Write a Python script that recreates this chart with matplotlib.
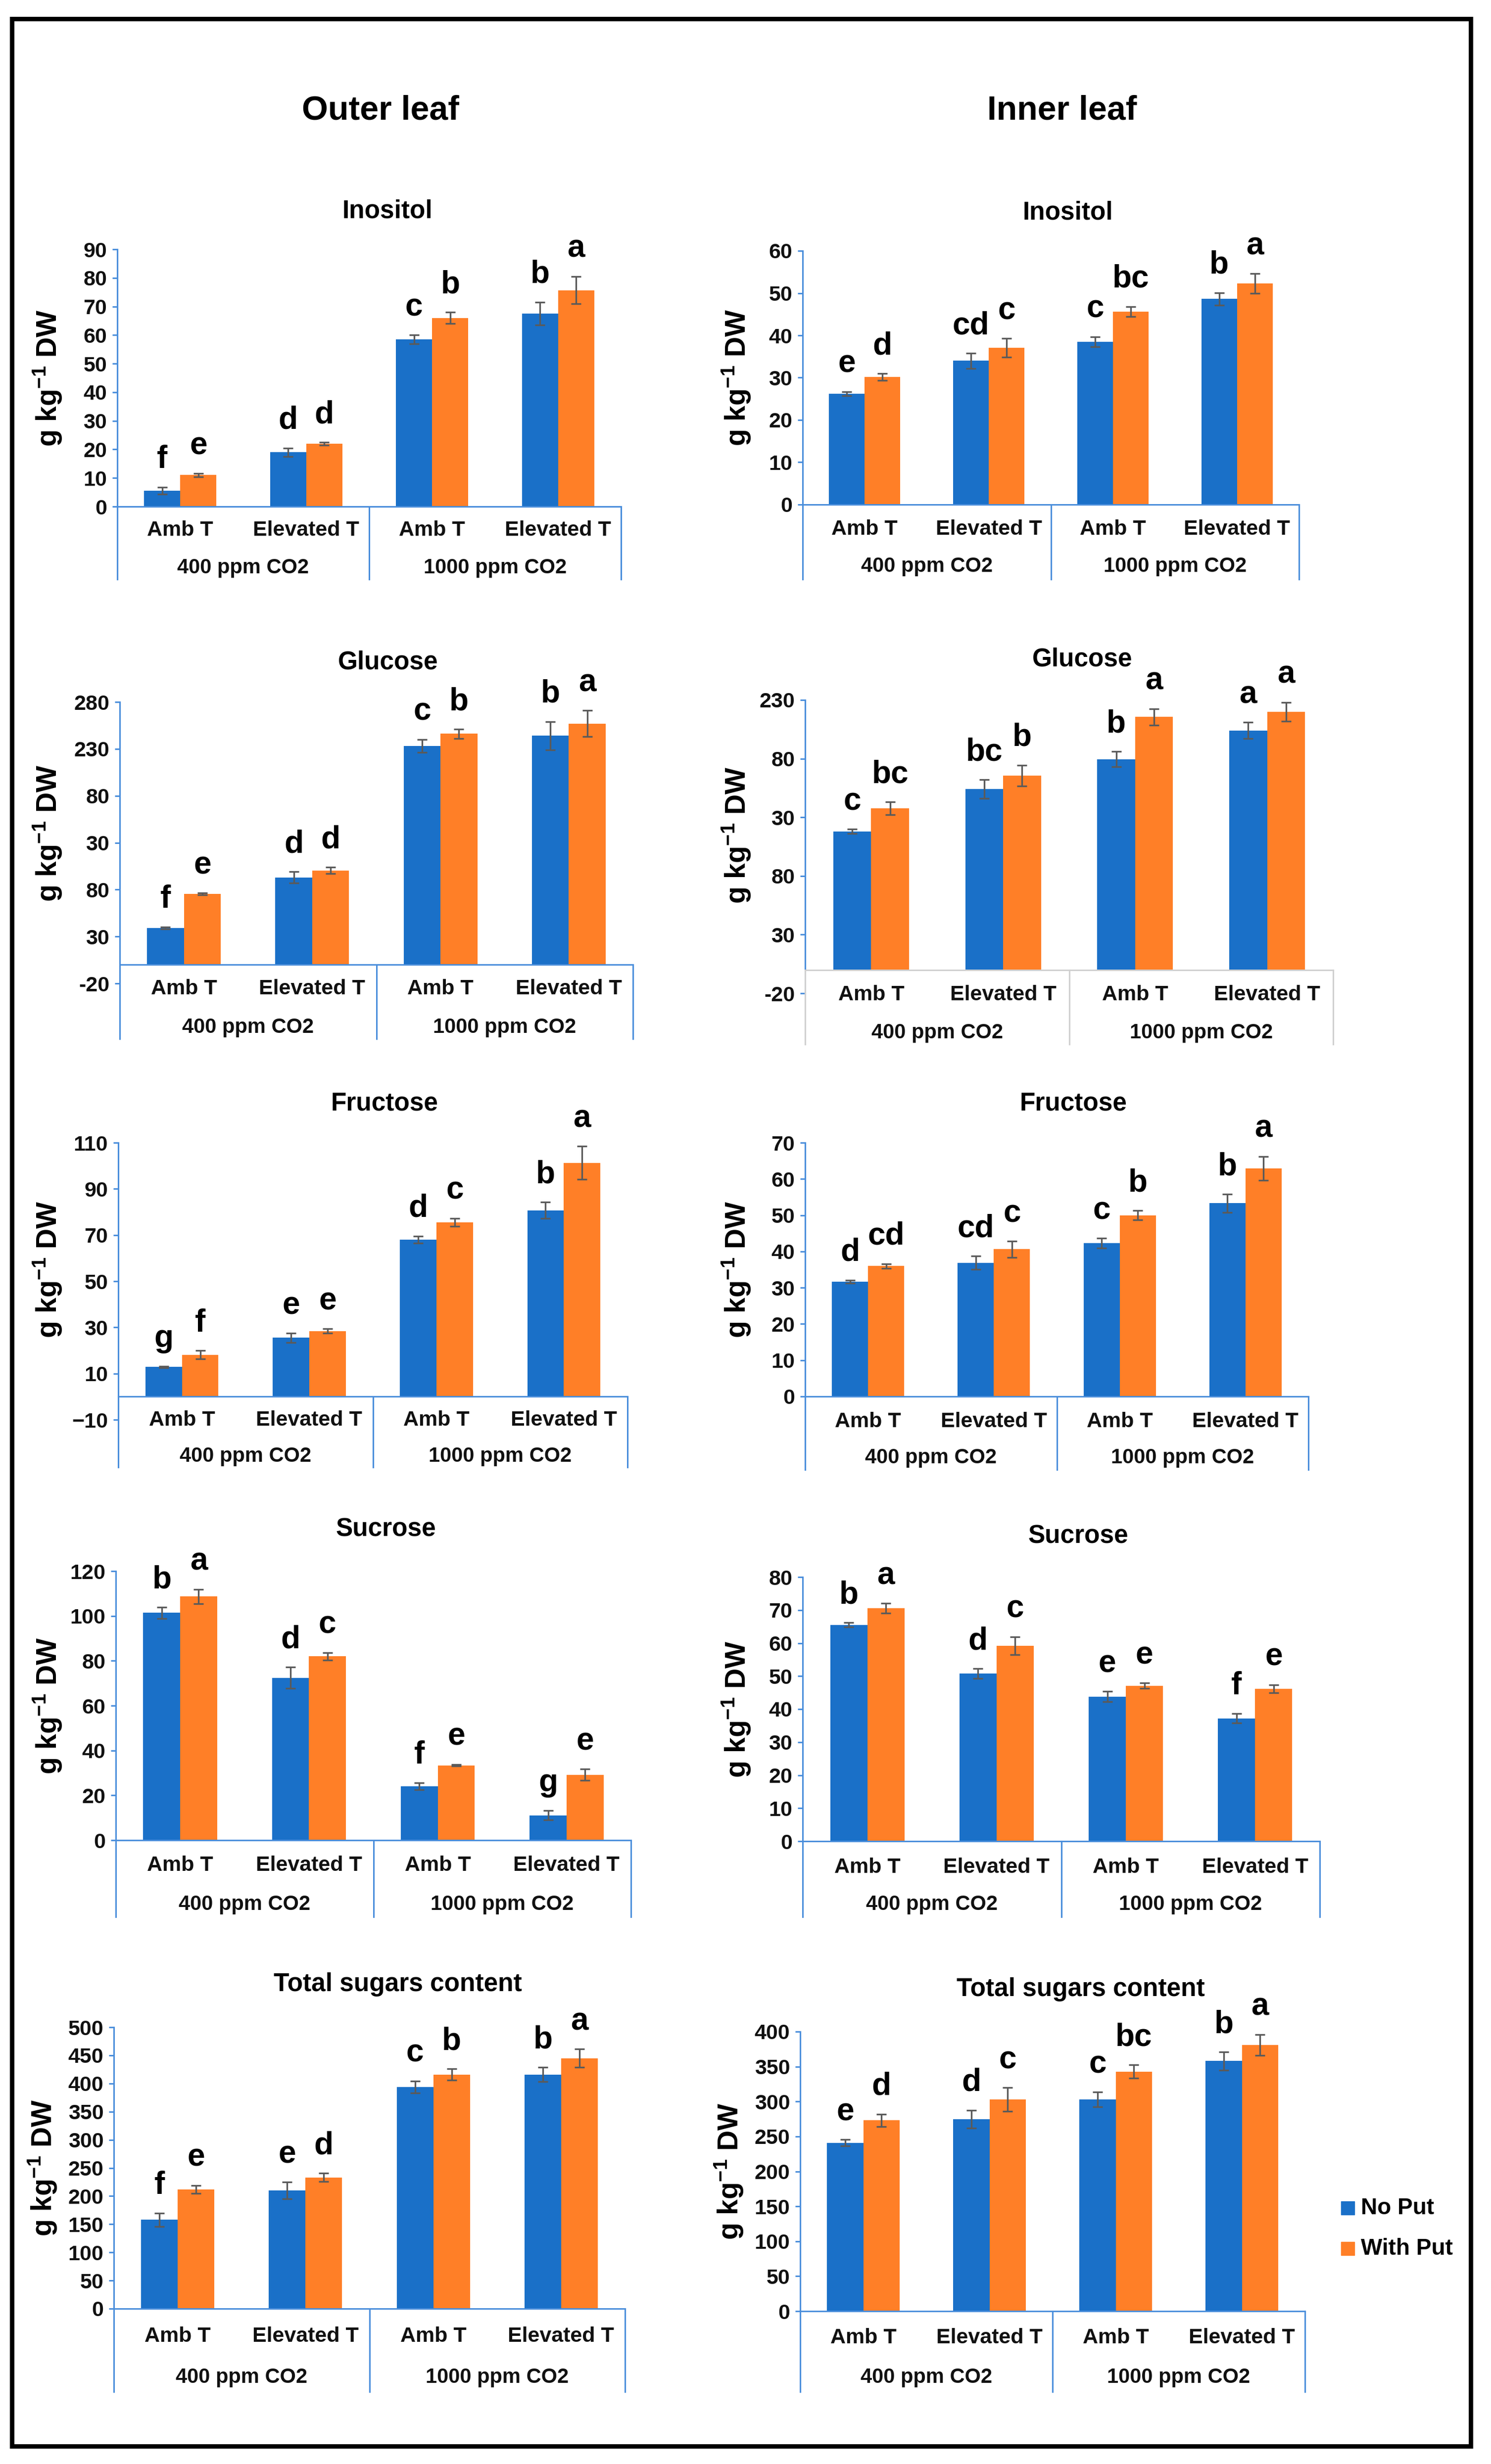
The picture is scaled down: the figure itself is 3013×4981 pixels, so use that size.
import matplotlib
matplotlib.use("Agg")
import matplotlib.pyplot as plt
from matplotlib.patches import Rectangle
from matplotlib.lines import Line2D
import numpy as np

plt.rcParams['font.family'] = ['Liberation Sans', 'DejaVu Sans']
plt.rcParams['mathtext.fontset'] = 'custom'
plt.rcParams['mathtext.rm'] = 'Liberation Sans'
plt.rcParams['mathtext.bf'] = 'Liberation Sans:bold'

# ---------------- data ----------------
categories = ['Amb T', 'Elevated T', 'Amb T', 'Elevated T']
groups = ['400 ppm CO2', '1000 ppm CO2']
series = ['No Put', 'With Put']
columns = ['Outer leaf', 'Inner leaf']

inos_out_no = [5.5, 19.0, 58.5, 67.5]
inos_out_with = [11.0, 22.0, 66.0, 75.7]
inos_out_no_err = [1.2, 1.5, 1.5, 4.0]
inos_out_with_err = [0.6, 0.5, 2.0, 4.8]
inos_out_no_let = ['f', 'd', 'c', 'b']
inos_out_with_let = ['e', 'd', 'b', 'a']

inos_in_no = [26.2, 34.0, 38.5, 48.6]
inos_in_with = [30.2, 37.1, 45.6, 52.3]
inos_in_no_err = [0.5, 1.8, 1.2, 1.5]
inos_in_with_err = [0.8, 2.2, 1.2, 2.3]
inos_in_no_let = ['e', 'cd', 'c', 'b']
inos_in_with_let = ['d', 'c', 'bc', 'a']

gluc_out_no = [39.0, 93.0, 233.0, 244.0]
gluc_out_with = [75.5, 100.3, 246.0, 257.0]
gluc_out_no_err = [1.0, 6.0, 7.0, 15.0]
gluc_out_with_err = [1.0, 3.5, 5.0, 14.0]
gluc_out_no_let = ['f', 'd', 'c', 'b']
gluc_out_with_let = ['e', 'd', 'b', 'a']

gluc_in_no = [118.0, 154.0, 179.5, 204.0]
gluc_in_with = [137.7, 165.5, 215.5, 220.0]
gluc_in_no_err = [2.0, 8.0, 6.5, 7.0]
gluc_in_with_err = [5.5, 9.0, 7.0, 8.0]
gluc_in_no_let = ['c', 'bc', 'b', 'a']
gluc_in_with_let = ['bc', 'b', 'a', 'a']

fruc_out_no = [12.9, 25.5, 68.1, 80.7]
fruc_out_with = [18.1, 28.4, 75.5, 101.3]
fruc_out_no_err = [0.3, 2.0, 1.5, 3.5]
fruc_out_with_err = [1.8, 1.0, 1.8, 7.2]
fruc_out_no_let = ['g', 'e', 'd', 'b']
fruc_out_with_let = ['f', 'e', 'c', 'a']

fruc_in_no = [31.7, 36.9, 42.3, 53.3]
fruc_in_with = [36.0, 40.6, 50.0, 62.9]
fruc_in_no_err = [0.4, 1.8, 1.3, 2.5]
fruc_in_with_err = [0.6, 2.2, 1.3, 3.3]
fruc_in_no_let = ['d', 'cd', 'c', 'b']
fruc_in_with_let = ['cd', 'c', 'b', 'a']

sucr_out_no = [101.4, 72.4, 24.1, 11.1]
sucr_out_with = [108.7, 82.0, 33.4, 29.2]
sucr_out_no_err = [2.5, 4.7, 1.5, 2.1]
sucr_out_with_err = [3.2, 1.7, 0.4, 2.5]
sucr_out_no_let = ['b', 'd', 'f', 'g']
sucr_out_with_let = ['a', 'c', 'e', 'e']

sucr_in_no = [65.5, 50.8, 43.8, 37.2]
sucr_in_with = [70.5, 59.2, 47.1, 46.2]
sucr_in_no_err = [0.7, 1.5, 1.6, 1.4]
sucr_in_with_err = [1.5, 2.7, 0.8, 1.2]
sucr_in_no_let = ['b', 'd', 'e', 'f']
sucr_in_with_let = ['a', 'c', 'e', 'e']

total_out_no = [158.0, 210.0, 394.0, 416.0]
total_out_with = [212.0, 233.0, 416.0, 445.0]
total_out_no_err = [12.0, 15.0, 10.6, 12.6]
total_out_with_err = [7.0, 7.5, 10.0, 16.0]
total_out_no_let = ['f', 'e', 'c', 'b']
total_out_with_let = ['e', 'd', 'b', 'a']

total_in_no = [241.0, 275.0, 303.0, 358.0]
total_in_with = [273.0, 303.0, 343.0, 381.0]
total_in_no_err = [4.5, 12.7, 10.4, 13.0]
total_in_with_err = [9.0, 16.7, 9.3, 15.0]
total_in_no_let = ['e', 'd', 'c', 'b']
total_in_with_let = ['d', 'c', 'bc', 'a']

inos_out_ticks = [0, 10, 20, 30, 40, 50, 60, 70, 80, 90]
inos_in_ticks = [0, 10, 20, 30, 40, 50, 60]
gluc_out_ticks = [-20, 30, 80, 130, 180, 230, 280]
gluc_out_ticklabels = ['-20', '30', '80', '30', '80', '230', '280']
gluc_in_ticks = [-20, 30, 80, 130, 180, 230]
gluc_in_ticklabels = ['-20', '30', '80', '30', '80', '230']
fruc_out_ticks = [-10, 10, 30, 50, 70, 90, 110]
fruc_in_ticks = [0, 10, 20, 30, 40, 50, 60, 70]
sucr_out_ticks = [0, 20, 40, 60, 80, 100, 120]
sucr_in_ticks = [0, 10, 20, 30, 40, 50, 60, 70, 80]
total_out_ticks = [0, 50, 100, 150, 200, 250, 300, 350, 400, 450, 500]
total_in_ticks = [0, 50, 100, 150, 200, 250, 300, 350, 400]

titles = ['Inositol', 'Inositol', 'Glucose', 'Glucose', 'Fructose', 'Fructose',
          'Sucrose', 'Sucrose', 'Total sugars content', 'Total sugars content']

# ---------------- figure ----------------
W, H = 3013, 4981
DPI = 100
fig = plt.figure(figsize=(W / DPI, H / DPI), dpi=DPI)
fig.patch.set_facecolor('white')

BLUE = '#1a70c8'
ORANGE = '#ff7f27'
AXC = '#4a8edb'
GRAYAX = '#d0d0d0'
ERRC = '#5a5a5a'


def fx(x):
    return x / W


def fy(y):
    return 1 - y / H


# layout: L, R, top_y, bottom_y, title(x,y), cat_y, grp_y, vbottom, ylab_x, axis colour
layout = [
    (237, 1255, 504, 1024, 783, 427, 1072, 1148, 1171, 96, AXC),
    (1622, 2625, 507, 1020, 2158, 430, 1070, 1145, 1171, 1488, AXC),
    (242, 1279, 1419, 1988, 784, 1339, 1999, 2077, 2100, 96, AXC),
    (1627, 2694, 1415, 2008, 2187, 1333, 2011, 2088, 2111, 1488, GRAYAX),
    (239, 1268, 2310, 2870, 777, 2231, 2871, 2944, 2966, 96, AXC),
    (1627, 2644, 2310, 2823, 2169, 2231, 2874, 2947, 2971, 1488, AXC),
    (234, 1275, 3176, 3720, 780, 3092, 3771, 3850, 3875, 96, AXC),
    (1622, 2667, 3188, 3722, 2179, 3106, 3775, 3850, 3875, 1488, AXC),
    (230, 1263, 4098, 4667, 804, 4012, 4723, 4806, 4835, 86, AXC),
    (1617, 2637, 4107, 4672, 2184, 4021, 4726, 4806, 4835, 1473, AXC),
]

panels = [
    (inos_out_no, inos_out_with, inos_out_no_err, inos_out_with_err, inos_out_no_let, inos_out_with_let, inos_out_ticks, None),
    (inos_in_no, inos_in_with, inos_in_no_err, inos_in_with_err, inos_in_no_let, inos_in_with_let, inos_in_ticks, None),
    (gluc_out_no, gluc_out_with, gluc_out_no_err, gluc_out_with_err, gluc_out_no_let, gluc_out_with_let, gluc_out_ticks, gluc_out_ticklabels),
    (gluc_in_no, gluc_in_with, gluc_in_no_err, gluc_in_with_err, gluc_in_no_let, gluc_in_with_let, gluc_in_ticks, gluc_in_ticklabels),
    (fruc_out_no, fruc_out_with, fruc_out_no_err, fruc_out_with_err, fruc_out_no_let, fruc_out_with_let, fruc_out_ticks, None),
    (fruc_in_no, fruc_in_with, fruc_in_no_err, fruc_in_with_err, fruc_in_no_let, fruc_in_with_let, fruc_in_ticks, None),
    (sucr_out_no, sucr_out_with, sucr_out_no_err, sucr_out_with_err, sucr_out_no_let, sucr_out_with_let, sucr_out_ticks, None),
    (sucr_in_no, sucr_in_with, sucr_in_no_err, sucr_in_with_err, sucr_in_no_let, sucr_in_with_let, sucr_in_ticks, None),
    (total_out_no, total_out_with, total_out_no_err, total_out_with_err, total_out_no_let, total_out_with_let, total_out_ticks, None),
    (total_in_no, total_in_with, total_in_no_err, total_in_with_err, total_in_no_let, total_in_with_let, total_in_ticks, None),
]

BW = 0.287
xc = np.arange(len(categories)) + 0.5

for (no, wi, noe, wie, nol, wil, ticks, tlabels), lay, title in zip(panels, layout, titles):
    L, R, ty, by, tx, tty, caty, grpy, vb, ylx, xcol = lay
    ax = fig.add_axes([fx(L), fy(by), fx(R) - fx(L), fy(ty) - fy(by)])
    ax.set_xlim(0, len(categories))
    ax.set_ylim(ticks[0], ticks[-1])
    for s in ['top', 'right', 'bottom']:
        ax.spines[s].set_visible(False)
    ax.spines['left'].set_color(AXC)
    ax.spines['left'].set_linewidth(2.2)
    ax.set_xticks([])
    ax.set_yticks(ticks)
    if tlabels is not None:
        ax.set_yticklabels(tlabels)
    ax.tick_params(axis='y', colors=AXC, length=7, width=2.2, pad=8,
                   labelsize=31, labelcolor='#111111')
    for lab in ax.get_yticklabels():
        lab.set_fontweight('bold')
    ax.patch.set_alpha(0)

    ax.bar(xc - BW / 2, no, BW, color=BLUE, zorder=2)
    ax.bar(xc + BW / 2, wi, BW, color=ORANGE, zorder=2)
    ax.errorbar(xc - BW / 2, no, yerr=noe, fmt='none', ecolor=ERRC,
                elinewidth=2.4, capsize=7, capthick=2.4, zorder=3)
    ax.errorbar(xc + BW / 2, wi, yerr=wie, fmt='none', ecolor=ERRC,
                elinewidth=2.4, capsize=7, capthick=2.4, zorder=3)
    for i in range(len(categories)):
        ax.annotate(nol[i], (xc[i] - BW / 2, no[i] + noe[i]), xytext=(0, 28),
                    textcoords='offset points', ha='center', va='baseline',
                    fontsize=46, fontweight='bold', annotation_clip=False)
        ax.annotate(wil[i], (xc[i] + BW / 2, wi[i] + wie[i]), xytext=(0, 28),
                    textcoords='offset points', ha='center', va='baseline',
                    fontsize=46, fontweight='bold', annotation_clip=False)

    # category axis line at zero
    ax.axhline(0, color=xcol, lw=2.2, zorder=4, clip_on=False)
    # separators down through category levels
    span = R - L
    base_y = fig.transFigure.inverted().transform(ax.transData.transform((0, 0)))[1]
    for xd in [0, 2, 4]:
        xp = L + span * xd / len(categories)
        fig.add_artist(Line2D([fx(xp), fx(xp)], [base_y, fy(vb)], color=xcol, lw=2.2))
    for i, c in enumerate(categories):
        fig.text(fx(L + span * xc[i] / len(categories)), fy(caty), c, ha='center', va='center',
                 fontsize=31, fontweight='bold', color='#111111')
    for j, g in enumerate(groups):
        fig.text(fx(L + span * (2 * j + 1) / len(categories)), fy(grpy), g, ha='center', va='center',
                 fontsize=30, fontweight='bold', color='#111111')
    fig.text(fx(tx), fy(tty), title, ha='center', va='center', fontsize=37, fontweight='bold')
    fig.text(fx(ylx), (fy(ty) + base_y) / 2, r'g kg$^{\mathbf{-1}}$ DW', rotation=90,
             ha='center', va='center', fontsize=41, fontweight='bold')

# column headers
fig.text(fx(769), fy(223), columns[0], ha='center', va='center', fontsize=49, fontweight='bold')
fig.text(fx(2146), fy(223), columns[1], ha='center', va='center', fontsize=49, fontweight='bold')

# legend
for k, (name, col) in enumerate(zip(series, [BLUE, ORANGE])):
    yc = 4464 + k * 82
    fig.add_artist(Rectangle((fx(2710), fy(yc + 13)), fx(27), 27 / H, color=col,
                             transform=fig.transFigure))
    fig.text(fx(2750), fy(yc), name, ha='left', va='center', fontsize=33, fontweight='bold')

# frame
fig.add_artist(Rectangle((fx(24), fy(4945)), fx(2972 - 24), (4945 - 38) / H, fill=False,
                         edgecolor='black', lw=6.5, transform=fig.transFigure))

fig.savefig('out.png', dpi=DPI, facecolor='white')
